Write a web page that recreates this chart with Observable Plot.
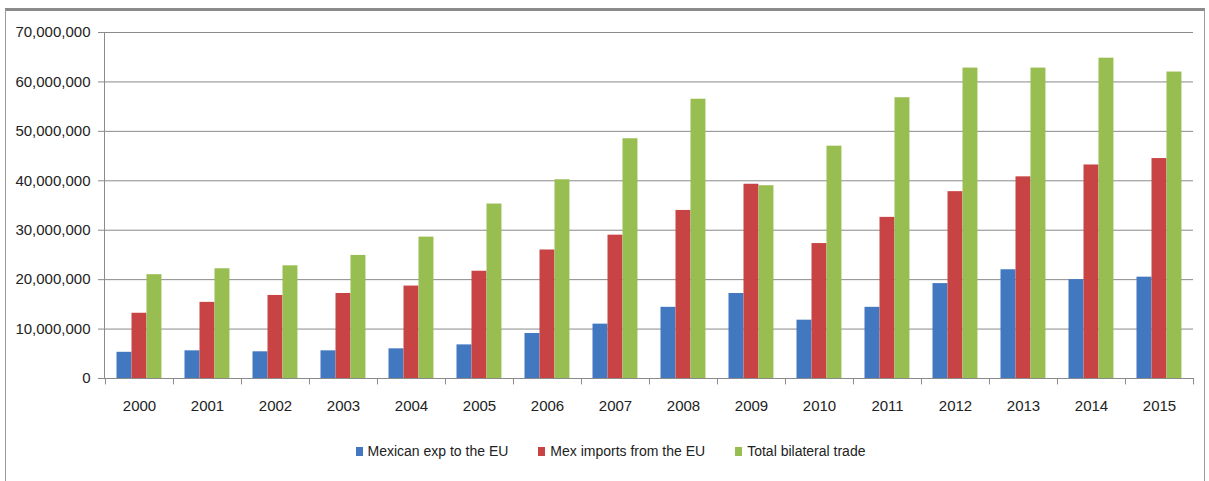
<!DOCTYPE html>
<html>
<head>
<meta charset="utf-8">
<script src="https://cdn.jsdelivr.net/npm/d3@7"></script>
<script src="https://cdn.jsdelivr.net/npm/@observablehq/plot@0.6"></script>
<style>
  html, body { margin: 0; padding: 0; background: #fff; }
  #page { position: relative; width: 1209px; height: 481px; overflow: hidden; font-family: "Liberation Sans", Arial, sans-serif; }
  #frame { position: absolute; left: 5px; top: 8px; width: 1200px; height: 480px; border-left: 1px solid #9a9a9a; border-right: 1px solid #9a9a9a; border-top: 3px solid #8a8a8a; box-sizing: border-box; }
  #chart { position: absolute; left: 0; top: 0; }
  #legend { position: absolute; left: 0; top: 443px; width: 1209px; display: flex; justify-content: center; gap: 30px; font-size: 14px; color: #222; padding-left: 12px; box-sizing: border-box; }
  .item { display: flex; align-items: center; gap: 5px; }
  .sw { width: 7px; height: 9px; display: inline-block; }
</style>
</head>
<body>
<div id="page">
  <div id="frame"></div>
  <div id="chart"></div>
  <div id="legend"></div>
</div>
<script>
const years = ["2000","2001","2002","2003","2004","2005","2006","2007","2008","2009","2010","2011","2012","2013","2014","2015"];
const mexExports = [5300000, 5600000, 5400000, 5600000, 6000000, 6800000, 9100000, 11000000, 14400000, 17200000, 11800000, 14400000, 19200000, 22000000, 20000000, 20500000];
const mexImports = [13200000, 15400000, 16800000, 17200000, 18700000, 21700000, 26000000, 29000000, 34000000, 39300000, 27300000, 32600000, 37800000, 40800000, 43200000, 44500000];
const totalTrade = [21000000, 22200000, 22800000, 24900000, 28600000, 35300000, 40200000, 48500000, 56500000, 39000000, 47000000, 56800000, 62800000, 62800000, 64800000, 62000000];
const yTicks = [0, 10000000, 20000000, 30000000, 40000000, 50000000, 60000000, 70000000];
const seriesNames = ["Mexican exp to the EU", "Mex imports from the EU", "Total bilateral trade"];
const seriesColors = ["#4178c0", "#c84444", "#98bd50"];

const rows = years.map((year, i) => ({year, exp: mexExports[i], imp: mexImports[i], tot: totalTrade[i]}));

const W = 1209, ML = 104, MR = 16;
const band = (W - ML - MR) / years.length;

const chart = Plot.plot({
  width: W,
  height: 430,
  marginLeft: ML,
  marginRight: MR,
  marginTop: 32,
  marginBottom: 52,
  style: {fontFamily: '"Liberation Sans", Arial, sans-serif', fontSize: "15px", color: "#222", background: "transparent"},
  x: {type: "band", domain: years, padding: 0},
  y: {domain: [0, 70000000]},
  marks: [
    Plot.ruleY(yTicks.filter(d => d > 0), {stroke: "#8a8a8a", strokeOpacity: 1}),
    Plot.barY(rows, {x: "year", y: "exp", fill: seriesColors[0], insetLeft: 11.5, insetRight: band - 26.5}),
    Plot.barY(rows, {x: "year", y: "imp", fill: seriesColors[1], insetLeft: 26.5, insetRight: band - 41.5}),
    Plot.barY(rows, {x: "year", y: "tot", fill: seriesColors[2], insetLeft: 41.5, insetRight: band - 56.5}),
    Plot.ruleY([0], {stroke: "#8a8a8a"}),
    Plot.frame({anchor: "left", stroke: "#8a8a8a", strokeOpacity: 1}),
    Plot.ruleX(years, {x: d => d, dx: -band / 2, y1: 0, y2: -1300000, stroke: "#8a8a8a"}),
    Plot.ruleX([years[years.length - 1]], {x: d => d, dx: band / 2, y1: 0, y2: -1300000, stroke: "#8a8a8a"}),
    Plot.axisY({ticks: yTicks, tickFormat: d3.format(","), tickSize: 6, tickPadding: 8, stroke: "#8a8a8a", fill: "#222", fontSize: 15, label: null}),
    Plot.axisX({tickSize: 0, tickPadding: 22, fill: "#222", fontSize: 15, label: null})
  ]
});
document.getElementById("chart").appendChild(chart);

const legend = document.getElementById("legend");
seriesNames.forEach((name, i) => {
  const item = document.createElement("div");
  item.className = "item";
  const sw = document.createElement("span");
  sw.className = "sw";
  sw.style.background = seriesColors[i];
  const t = document.createElement("span");
  t.textContent = name;
  item.appendChild(sw);
  item.appendChild(t);
  legend.appendChild(item);
});
</script>
</body>
</html>
